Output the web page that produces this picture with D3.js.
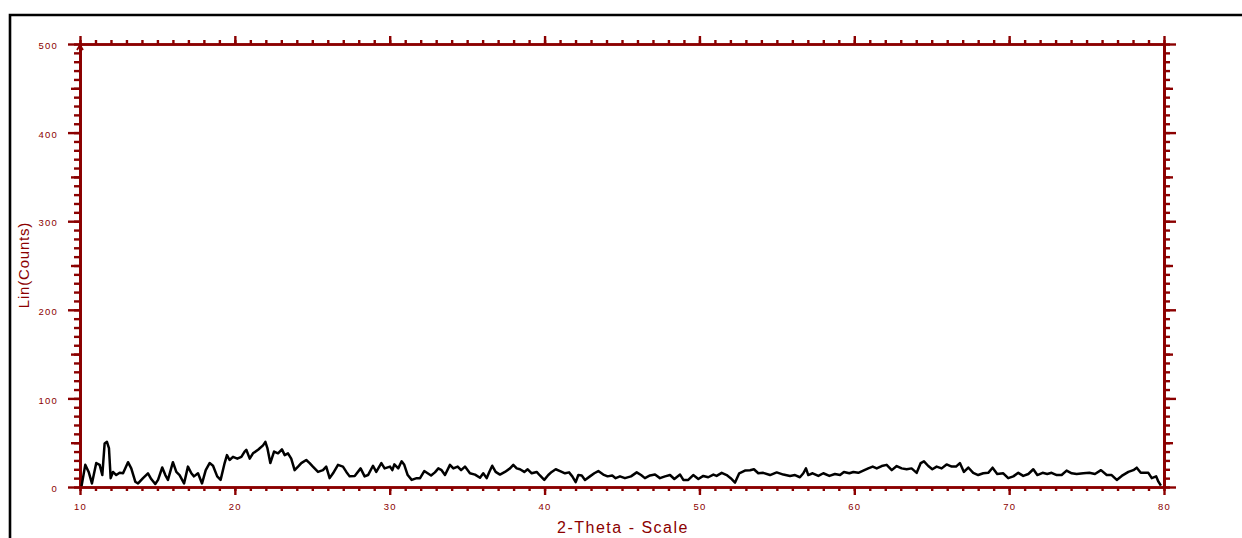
<!DOCTYPE html>
<html>
<head>
<meta charset="utf-8">
<script src="https://cdn.jsdelivr.net/npm/d3@7"></script>
<style>
body { margin: 0; background: #fff; }
svg { display: block; font-family: "Liberation Sans", Arial, sans-serif; }
</style>
</head>
<body>
<div id="chart"></div>
<script>
// data (2-theta in degrees, counts)
const twoTheta = [10.1, 10.34, 10.56, 10.77, 11.05, 11.27, 11.44, 11.59, 11.74, 11.87, 11.98, 12.13, 12.34, 12.56, 12.78,
  13.1, 13.31, 13.57, 13.75, 14.07, 14.39, 14.6, 14.86, 15.04, 15.31, 15.51, 15.68, 16.0, 16.22, 16.43, 16.72, 16.97,
  17.19, 17.36, 17.62, 17.88, 18.12, 18.37, 18.59, 18.86, 19.08, 19.34, 19.49, 19.66, 19.88, 20.16, 20.42, 20.63, 20.74,
  20.96, 21.17, 21.5, 21.82, 21.97, 22.1, 22.29, 22.53, 22.79, 23.04, 23.22, 23.43, 23.64, 23.86, 24.08, 24.29, 24.61,
  24.83, 25.04, 25.37, 25.69, 25.9, 26.12, 26.34, 26.66, 26.98, 27.2, 27.41, 27.74, 28.12, 28.38, 28.6, 28.92, 29.13,
  29.46, 29.67, 30.02, 30.17, 30.3, 30.55, 30.77, 30.94, 31.16, 31.42, 31.74, 31.96, 32.23, 32.45, 32.67, 32.92, 33.14,
  33.35, 33.57, 33.89, 34.11, 34.39, 34.61, 34.86, 35.18, 35.51, 35.83, 36.04, 36.26, 36.43, 36.62, 36.84, 37.12, 37.44,
  37.77, 37.98, 38.2, 38.41, 38.69, 38.91, 39.17, 39.49, 39.7, 39.98, 40.24, 40.46, 40.72, 41.0, 41.32, 41.58, 41.79,
  42.01, 42.18, 42.4, 42.61, 42.93, 43.21, 43.47, 43.79, 44.07, 44.37, 44.59, 44.87, 45.19, 45.58, 45.95, 46.23, 46.48,
  46.81, 47.13, 47.45, 47.78, 48.1, 48.38, 48.75, 48.96, 49.28, 49.6, 49.93, 50.25, 50.57, 50.9, 51.11, 51.44, 51.76,
  52.02, 52.3, 52.57, 52.94, 53.27, 53.52, 53.8, 54.12, 54.56, 54.99, 55.42, 55.85, 56.17, 56.49, 56.71, 56.88, 57.03,
  57.31, 57.68, 58.0, 58.39, 58.75, 59.08, 59.33, 59.68, 59.94, 60.26, 60.58, 60.9, 61.19, 61.45, 61.77, 62.09, 62.42,
  62.74, 63.06, 63.38, 63.7, 64.03, 64.29, 64.5, 64.78, 65.04, 65.32, 65.64, 65.96, 66.29, 66.57, 66.82, 67.08, 67.36,
  67.68, 68.0, 68.33, 68.65, 68.93, 69.23, 69.62, 69.94, 70.27, 70.59, 70.91, 71.24, 71.56, 71.82, 72.16, 72.46, 72.74,
  73.07, 73.39, 73.71, 74.04, 74.36, 74.79, 75.18, 75.54, 75.93, 76.3, 76.62, 76.95, 77.27, 77.7, 78.02, 78.24, 78.5,
  78.99, 79.21, 79.49, 79.64, 79.8]
const counts = [1, 25, 17, 4, 27, 25, 13.5, 49, 51, 44, 10, 17, 13.5, 16, 15.5,
  28, 21, 6, 4, 10, 15.5, 9, 3.4, 8, 22, 13.5, 8, 28, 17, 13.5, 4, 23,
  15.5, 12, 15.5, 4, 19, 27, 24, 12, 8, 27, 36, 30.5, 34, 32, 34, 40, 42,
  32, 38, 42, 47, 51, 44, 27, 40, 38, 42.5, 36, 38, 32, 19, 23, 27, 30.5,
  27, 23, 17, 19, 23, 10, 15.5, 25, 23, 17, 12, 12.5, 21, 12, 13.5, 24, 17,
  27, 21, 23, 19, 25.5, 21, 29, 25, 13.5, 8, 10, 10, 18, 15.5, 13, 16.5, 21,
  19, 13.5, 25, 21, 23, 19, 23, 15.5, 14, 10.5, 15.5, 10, 17, 24, 17, 14, 17,
  21, 25, 21, 20, 17, 20, 15.5, 17, 13, 8, 13.5, 17, 20, 18, 15.5, 16.5, 12,
  5.5, 13.5, 13, 8, 12, 15.5, 18, 14, 12, 13, 10, 12, 10, 12, 16.5, 13.5, 10,
  13, 14, 10, 12, 13.5, 9, 14, 8, 8, 13.5, 9, 12.5, 11, 14, 12.5, 16, 13.5,
  10, 5, 15.5, 18.5, 19, 20, 15.5, 16, 13.5, 16.5, 14, 12.5, 13.5, 11, 15.5, 21, 13.5,
  15.5, 12.5, 15.5, 12.5, 14.7, 13.5, 17, 15.5, 17, 16, 18.5, 21, 23, 21, 23.7, 25, 19,
  23.7, 21, 20, 21, 16, 27, 29, 23.7, 20, 23, 21, 25.5, 23, 23, 27, 17, 22,
  16, 13.5, 15.5, 16, 21.8, 14.7, 15.5, 10, 12, 16, 12.5, 14.7, 20, 13.5, 16, 14.7, 16,
  13.5, 13.5, 18.5, 15.5, 14.7, 15.5, 16, 14.7, 19, 13.5, 13.5, 8, 12.5, 17, 19, 21.8, 16,
  16, 10, 12, 6, 1.5]

const xMajor = [10, 20, 30, 40, 50, 60, 70, 80]
const yMajor = [0, 100, 200, 300, 400, 500]

const width = 1242
const height = 538
const red = "#8b0000"

const svg = d3.select("#chart")
  .append("svg")
    .attr("width", width)
    .attr("height", height)

// outer frame (only top and left edges are visible)
svg.append("path")
  .attr("d", `M10,538 V15 H1242`)
  .attr("fill", "none")
  .attr("stroke", "#000")
  .attr("stroke-width", 2.6)

const x = d3.scaleLinear().domain([10, 80]).range([80, 1164])
const y = d3.scaleLinear().domain([0, 500]).range([487, 44])

function styleAxis(g) {
  g.select(".domain").attr("stroke", red).attr("stroke-width", 2.6)
  g.selectAll(".tick line").attr("stroke", red).attr("stroke-width", 2.4)
  g.selectAll(".tick text")
    .attr("fill", red)
    .attr("font-size", "9.5px")
    .attr("letter-spacing", "1.2px")
}

const xMinor = d3.range(10, 81, 1)
const yMinor = d3.range(0, 501, 10)
const yMid = d3.range(50, 500, 100)

// bottom axis
svg.append("g").attr("transform", "translate(0,487)")
  .call(d3.axisBottom(x).tickValues(xMinor).tickSize(4).tickSizeOuter(0).tickFormat(""))
  .call(styleAxis)
svg.append("g").attr("transform", "translate(0,487)")
  .call(d3.axisBottom(x).tickValues(xMajor).tickSize(8).tickSizeOuter(0).tickPadding(8).tickFormat(d3.format("d")))
  .call(styleAxis)

// top axis
svg.append("g").attr("transform", "translate(0,44)")
  .call(d3.axisTop(x).tickValues(xMinor).tickSize(4).tickSizeOuter(0).tickFormat(""))
  .call(styleAxis)
svg.append("g").attr("transform", "translate(0,44)")
  .call(d3.axisTop(x).tickValues(xMajor).tickSize(8).tickSizeOuter(0).tickFormat(""))
  .call(styleAxis)

// left axis
svg.append("g").attr("transform", "translate(80,0)")
  .call(d3.axisLeft(y).tickValues(yMinor).tickSize(6).tickSizeOuter(0).tickFormat(""))
  .call(styleAxis)
svg.append("g").attr("transform", "translate(80,0)")
  .call(d3.axisLeft(y).tickValues(yMid).tickSize(9).tickSizeOuter(0).tickFormat(""))
  .call(styleAxis)
svg.append("g").attr("transform", "translate(80,0)")
  .call(d3.axisLeft(y).tickValues(yMajor).tickSize(12).tickSizeOuter(0).tickPadding(10).tickFormat(d3.format("d")))
  .call(styleAxis)
  .selectAll(".tick text").attr("dy", "0.5em")

// right axis
svg.append("g").attr("transform", "translate(1164,0)")
  .call(d3.axisRight(y).tickValues(yMinor).tickSize(6).tickSizeOuter(0).tickFormat(""))
  .call(styleAxis)
svg.append("g").attr("transform", "translate(1164,0)")
  .call(d3.axisRight(y).tickValues(yMid).tickSize(9).tickSizeOuter(0).tickFormat(""))
  .call(styleAxis)
svg.append("g").attr("transform", "translate(1164,0)")
  .call(d3.axisRight(y).tickValues(yMajor).tickSize(12).tickSizeOuter(0).tickFormat(""))
  .call(styleAxis)

// little arrow head on top of the y axis
svg.append("path")
  .attr("d", `M${x(10) - 3},${y(500) + 6} L${x(10)},${y(500) + 1} L${x(10) + 3},${y(500) + 6}`)
  .attr("fill", "none")
  .attr("stroke", red)
  .attr("stroke-width", 1.8)

// axis titles
svg.append("text")
  .attr("x", 623)
  .attr("y", 533)
  .attr("text-anchor", "middle")
  .attr("fill", red)
  .attr("font-size", "16px")
  .attr("letter-spacing", "1.5px")
  .text("2-Theta - Scale")

svg.append("text")
  .attr("transform", `translate(29,265) rotate(-90)`)
  .attr("text-anchor", "middle")
  .attr("fill", red)
  .attr("font-size", "15px")
  .attr("letter-spacing", "0.8px")
  .text("Lin(Counts)")

// the scan
const scan = twoTheta.map((t, i) => ({ t: t, c: counts[i] }))
svg.append("path")
  .datum(scan)
  .attr("fill", "none")
  .attr("stroke", "#000")
  .attr("stroke-width", 2.5)
  .attr("stroke-linejoin", "round")
  .attr("d", d3.line().x(d => x(d.t)).y(d => y(d.c)))
</script>
</body>
</html>
